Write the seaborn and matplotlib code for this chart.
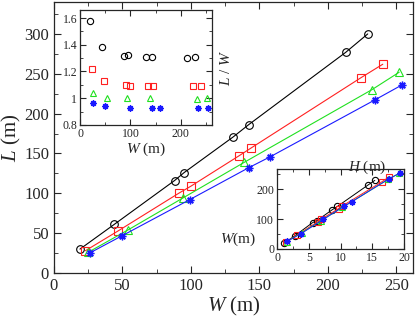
import matplotlib
matplotlib.use("Agg")
import matplotlib.pyplot as plt
import seaborn as sns
import pandas as pd
from matplotlib.ticker import MultipleLocator

# width W (m), length L (m), height H (m) for four series
w_black = [19, 44, 88, 95, 131, 142, 213, 229]
l_black = [30, 61, 116, 126, 171, 186, 277, 300]
h_black = [1.1, 2.8, 5.6, 6.3, 8.7, 9.5, 14.3, 15.4]

w_red = [23, 47, 91, 100, 135, 144, 224, 240]
l_red = [28, 53, 100, 109, 147, 157, 245, 262]
h_red = [1.4, 3.2, 6.4, 7.0, 9.7, 10.3, 16.5, 17.6]

w_green = [25, 54, 94, 139, 232, 252]
l_green = [26, 54, 94, 139, 230, 252]
h_green = [1.5, 3.9, 6.9, 10.3, 17.5, 19.2]

w_blue = [26, 50, 99, 142, 158, 234, 254]
l_blue = [25, 47, 92, 132, 146, 217, 236]
h_blue = [1.6, 3.7, 7.3, 10.5, 11.8, 17.6, 19.4]

series = [
    (w_black, l_black, h_black, "black", "o"),
    (w_red, l_red, h_red, "#ff2020", "s"),
    (w_green, l_green, h_green, "#20e020", "^"),
    (w_blue, l_blue, h_blue, "#1a1aff", (8, 2, 0)),
]

sns.set_style("ticks")
plt.rcParams["font.family"] = ["Liberation Serif", "DejaVu Serif"]
plt.rcParams["mathtext.fontset"] = "custom"
plt.rcParams["mathtext.rm"] = "Liberation Serif"
plt.rcParams["mathtext.it"] = "Liberation Serif:italic"

fig = plt.figure(figsize=(4.15, 3.18), dpi=100)
ax = fig.add_axes([0.130, 0.1415, 0.865, 0.852])
ax_in1 = fig.add_axes([0.193, 0.607, 0.318, 0.3616])
ax_in2 = fig.add_axes([0.6675, 0.217, 0.306, 0.2516])


def style_marker(m, c):
    if isinstance(m, tuple):
        return dict(marker=m, markeredgecolor=c, markerfacecolor=c, markeredgewidth=1.0)
    return dict(marker=m, markeredgecolor=c, markerfacecolor="none", markeredgewidth=0.8)


for w, l, h, c, m in series:
    df = pd.DataFrame({"W": w, "L": l, "H": h})
    df["ratio"] = df["L"] / df["W"]
    sns.lineplot(data=df, x="W", y="L", ax=ax, color=c, lw=0.8, sort=False,
                 markersize=5.5, **style_marker(m, c))
    sns.lineplot(data=df, x="W", y="ratio", ax=ax_in1, color=c, lw=0, sort=False,
                 markersize=4.5, **style_marker(m, c))
    sns.lineplot(data=df, x="H", y="W", ax=ax_in2, color=c, lw=0.7, sort=False,
                 markersize=4.5, **style_marker(m, c))

# main axes
ax.set_xlim(0, 262)
ax.set_ylim(0, 340)
ax.xaxis.set_major_locator(MultipleLocator(50))
ax.xaxis.set_minor_locator(MultipleLocator(25))
ax.yaxis.set_major_locator(MultipleLocator(50))
ax.yaxis.set_minor_locator(MultipleLocator(25))
ax.tick_params(which="both", direction="in", top=True, right=True, labelsize=12)
ax.tick_params(which="major", length=5)
ax.tick_params(which="minor", length=3)
ax.set_xlabel(r"$W$ (m)", fontsize=15, labelpad=1)
ax.set_ylabel(r"$L$ (m)", fontsize=15, labelpad=1)

# inset 1: L/W vs W
ax_in1.set_xlim(0, 262)
ax_in1.set_ylim(0.8, 1.66)
ax_in1.xaxis.set_major_locator(MultipleLocator(100))
ax_in1.xaxis.set_minor_locator(MultipleLocator(50))
ax_in1.yaxis.set_minor_locator(MultipleLocator(0.1))
ax_in1.set_yticks([0.8, 1.0, 1.2, 1.4, 1.6], ["0.8", "1", "1.2", "1.4", "1.6"])
ax_in1.tick_params(which="both", direction="in", top=True, right=True, labelsize=8.5, pad=2)
ax_in1.tick_params(which="major", length=4)
ax_in1.tick_params(which="minor", length=2)
ax_in1.set_xlabel(r"$W$ (m)", fontsize=11, labelpad=1)
ax_in1.yaxis.set_label_position("right")
ax_in1.set_ylabel(r"$L$ / $W$", fontsize=11, rotation=90, labelpad=5)

# inset 2: W vs H
ax_in2.set_xlim(0, 20)
ax_in2.set_ylim(0, 267)
ax_in2.xaxis.set_major_locator(MultipleLocator(5))
ax_in2.xaxis.set_minor_locator(MultipleLocator(2.5))
ax_in2.yaxis.set_major_locator(MultipleLocator(100))
ax_in2.yaxis.set_minor_locator(MultipleLocator(50))
ax_in2.tick_params(which="both", direction="in", top=True, right=True, labelsize=8.5, pad=2)
ax_in2.tick_params(which="major", length=4)
ax_in2.tick_params(which="minor", length=2)
ax_in2.set_xlabel(r"$H$ (m)", fontsize=11)
ax_in2.xaxis.set_label_coords(0.71, 1.13)
ax_in2.set_ylabel(r"$W$(m)", fontsize=11, rotation=0, ha="center", va="center")
ax_in2.yaxis.set_label_coords(-0.31, 0.12)

for a in (ax, ax_in1, ax_in2):
    for s in a.spines.values():
        s.set_linewidth(0.9)

fig.savefig("out.png", dpi=100)
